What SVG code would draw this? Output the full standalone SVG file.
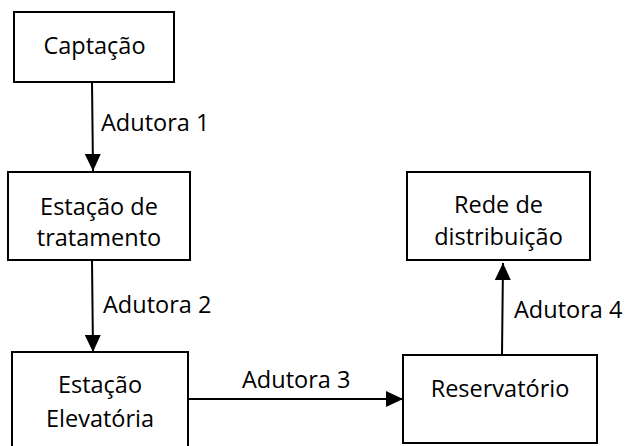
<svg xmlns="http://www.w3.org/2000/svg" width="629" height="446" viewBox="0 0 629 446">
<defs>
<style>
.box{fill:#fff;stroke:#000;stroke-width:2}
.t{font-family:"Open Sans","Liberation Sans",sans-serif;font-size:23.5px;fill:#000;text-anchor:middle}
.l{font-family:"Open Sans","Liberation Sans",sans-serif;font-size:23.5px;fill:#000}
.c{stroke:#000;stroke-width:2;fill:none}
</style>
<marker id="ah" markerWidth="18" markerHeight="16" refX="17" refY="8" orient="auto" markerUnits="userSpaceOnUse">
<path d="M0,0 L17,8 L0,16 Z" fill="#000"/>
</marker>
</defs>
<rect width="629" height="446" fill="#fff"/>
<g id="connectors">
<line class="c" x1="92" y1="82" x2="93" y2="171" marker-end="url(#ah)"/>
<line class="c" x1="92" y1="260" x2="93" y2="352" marker-end="url(#ah)"/>
<line class="c" x1="188" y1="399" x2="403" y2="399" marker-end="url(#ah)"/>
<line class="c" x1="502" y1="355" x2="503" y2="263" marker-end="url(#ah)"/>
<text class="l" x="101" y="131">Adutora 1</text>
<text class="l" x="103" y="313">Adutora 2</text>
<text class="l" x="242" y="388">Adutora 3</text>
<text class="l" x="514" y="318">Adutora 4</text>
</g>
<g id="captacao">
<rect class="box" x="14" y="12" width="160" height="70"/>
<text class="t" x="94.5" y="54">Captação</text>
</g>
<g id="estacao-tratamento">
<rect class="box" x="8" y="172" width="182" height="88"/>
<text class="t" x="99" y="215">Estação de</text>
<text class="t" x="99" y="246">tratamento</text>
</g>
<g id="estacao-elevatoria">
<rect class="box" x="12" y="352" width="176" height="110"/>
<text class="t" x="100" y="393">Estação</text>
<text class="t" x="100" y="427">Elevatória</text>
</g>
<g id="reservatorio">
<rect class="box" x="403" y="355" width="194" height="88"/>
<text class="t" x="500" y="397">Reservatório</text>
</g>
<g id="rede-distribuicao">
<rect class="box" x="407" y="172" width="183" height="88"/>
<text class="t" x="498.5" y="213">Rede de</text>
<text class="t" x="498.5" y="245">distribuição</text>
</g>
</svg>
